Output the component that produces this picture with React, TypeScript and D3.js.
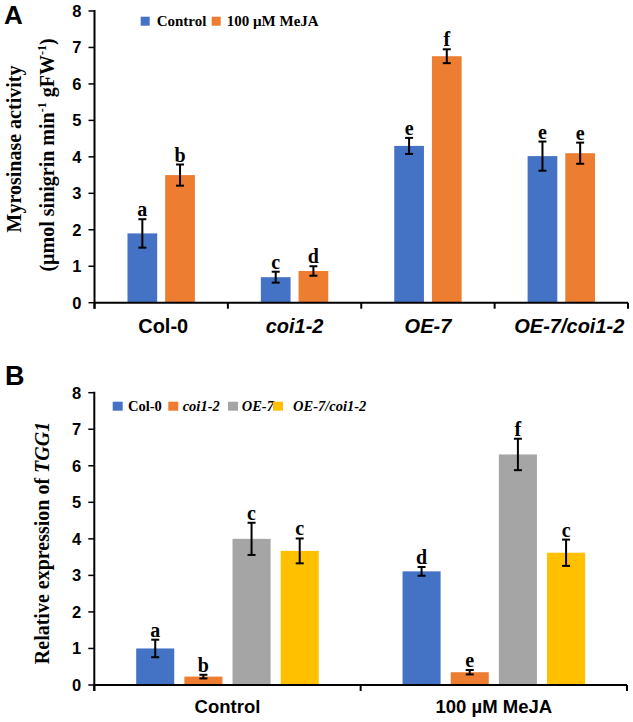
import React from 'react';
import * as d3 from 'd3';

// ---------- Panel A data ----------
const genotypes = ['Col-0', 'coi1-2', 'OE-7', 'OE-7/coi1-2'];
const treatmentsA = ['Control', '100 µM MeJA'];
const activityControl = [1.9, 0.7, 4.3, 4.02];
const activityControlErr = [0.39, 0.15, 0.22, 0.4];
const activityMeJA = [3.5, 0.87, 6.76, 4.1];
const activityMeJAErr = [0.29, 0.13, 0.19, 0.29];
const lettersControlA = ['a', 'c', 'e', 'e'];
const lettersMeJAA = ['b', 'd', 'f', 'e'];
const yTicks = [0, 1, 2, 3, 4, 5, 6, 7, 8];

// ---------- Panel B data ----------
const treatmentsB = ['Control', '100 µM MeJA'];
const exprCol0 = [1.0, 3.11];
const exprCoi12 = [0.23, 0.35];
const exprOE7 = [4.0, 6.31];
const exprOE7coi12 = [3.67, 3.62];
const errCol0 = [0.24, 0.12];
const errCoi12 = [0.05, 0.06];
const errOE7 = [0.44, 0.43];
const errOE7coi12 = [0.34, 0.36];
const lettersCol0 = ['a', 'd'];
const lettersCoi12 = ['b', 'e'];
const lettersOE7 = ['c', 'f'];
const lettersOE7coi12 = ['c', 'c'];

const colorsA = ['#4472C4', '#ED7D31'];
const colorsB = ['#4472C4', '#ED7D31', '#A5A5A5', '#FFC000'];

const SANS = 'Liberation Sans, Arial, sans-serif';
const SERIF = 'Liberation Serif, Times New Roman, serif';

type Bar = { x: number; w: number; v: number; e: number; letter: string; color: string };

function Bars({ bars, y }: { bars: Bar[]; y: d3.ScaleLinear<number, number> }) {
  return (
    <g>
      {bars.map((b, i) => {
        const top = y(b.v);
        const eTop = y(b.v + b.e);
        const eBot = y(b.v - b.e);
        const cx = b.x + b.w / 2;
        return (
          <g key={i}>
            <rect x={b.x} y={top} width={b.w} height={y(0) - top} fill={b.color} />
            <line x1={cx} x2={cx} y1={eTop} y2={eBot} stroke="#000" strokeWidth={2} />
            <line x1={cx - 4} x2={cx + 4} y1={eTop} y2={eTop} stroke="#000" strokeWidth={2} />
            <line x1={cx - 4} x2={cx + 4} y1={eBot} y2={eBot} stroke="#000" strokeWidth={2} />
            <text x={cx} y={eTop - 3} textAnchor="middle" fontFamily={SERIF} fontWeight="bold" fontSize={20}>
              {b.letter}
            </text>
          </g>
        );
      })}
    </g>
  );
}

function YAxis({ y, x }: { y: d3.ScaleLinear<number, number>; x: number }) {
  return (
    <g>
      <line x1={x} x2={x} y1={y(8) - 1} y2={y(0) + 6} stroke="#000" strokeWidth={2} />
      {yTicks.map((t) => (
        <g key={t}>
          <line x1={x - 6} x2={x} y1={y(t)} y2={y(t)} stroke="#000" strokeWidth={1.5} />
          <text x={x - 13} y={y(t)} dy="0.36em" textAnchor="end" fontFamily={SANS} fontWeight="bold" fontSize={16.5}>
            {t}
          </text>
        </g>
      ))}
    </g>
  );
}

export default function App() {
  // ---- Panel A scales ----
  const yA = d3.scaleLinear().domain([0, 8]).range([302.7, 11]);
  const xA = d3.scaleBand<string>().domain(genotypes).range([94.5, 628]);
  const xA1 = d3
    .scaleBand<string>()
    .domain(treatmentsA)
    .range([0, xA.bandwidth()])
    .paddingInner(0.212)
    .paddingOuter(0.875);

  const barsA: Bar[] = [];
  genotypes.forEach((g, i) => {
    barsA.push({
      x: (xA(g) as number) + (xA1(treatmentsA[0]) as number),
      w: xA1.bandwidth(),
      v: activityControl[i],
      e: activityControlErr[i],
      letter: lettersControlA[i],
      color: colorsA[0],
    });
    barsA.push({
      x: (xA(g) as number) + (xA1(treatmentsA[1]) as number),
      w: xA1.bandwidth(),
      v: activityMeJA[i],
      e: activityMeJAErr[i],
      letter: lettersMeJAA[i],
      color: colorsA[1],
    });
  });

  // ---- Panel B scales ----
  const yB = d3.scaleLinear().domain([0, 8]).range([685, 392.7]);
  const xB = d3.scaleBand<string>().domain(treatmentsB).range([94.3, 627]);
  const xB1 = d3
    .scaleBand<string>()
    .domain(genotypes)
    .range([0, xB.bandwidth()])
    .paddingInner(0.21)
    .paddingOuter(0.87);
  const exprSeries = [exprCol0, exprCoi12, exprOE7, exprOE7coi12];
  const errSeries = [errCol0, errCoi12, errOE7, errOE7coi12];
  const letterSeries = [lettersCol0, lettersCoi12, lettersOE7, lettersOE7coi12];
  const barsB: Bar[] = [];
  treatmentsB.forEach((t, ti) => {
    genotypes.forEach((g, gi) => {
      barsB.push({
        x: (xB(t) as number) + (xB1(g) as number),
        w: xB1.bandwidth(),
        v: exprSeries[gi][ti],
        e: errSeries[gi][ti],
        letter: letterSeries[gi][ti],
        color: colorsB[gi],
      });
    });
  });

  const boundariesA = [...genotypes.map((g) => xA(g) as number), xA.range()[1]];
  const boundariesB = [...treatmentsB.map((t) => xB(t) as number), xB.range()[1]];
  const labelShiftA = [2, 0, 0, 8];

  const legendA = [
    { sq: 140.7, tx: 156.7, label: 'Control' },
    { sq: 211.7, tx: 226.7, label: '100 µM MeJA' },
  ];
  const legendB = [
    { sq: 112.7, tx: 128, label: 'Col-0', italic: false },
    { sq: 168.3, tx: 182.7, label: 'coi1-2', italic: true },
    { sq: 228, tx: 241.7, label: 'OE-7', italic: true },
    { sq: 273, tx: 293, label: 'OE-7/coi1-2', italic: true },
  ];

  return (
    <svg
      width={633}
      height={722}
      style={{ position: 'absolute', left: 0, top: 0, display: 'block', background: '#fff' }}
    >
      <rect x={0} y={0} width={633} height={722} fill="#fff" />

      {/* ===== Panel A ===== */}
      <text x={4} y={24} fontFamily={SANS} fontWeight="bold" fontSize={26}>A</text>
      <text
        transform={`translate(21,149) rotate(-90)`}
        textAnchor="middle"
        fontFamily={SERIF}
        fontWeight="bold"
        fontSize={20}
      >
        Myrosinase activity
      </text>
      <text
        transform={`translate(54,155) rotate(-90)`}
        textAnchor="middle"
        fontFamily={SERIF}
        fontWeight="bold"
        fontSize={20}
      >
        (µmol sinigrin min
        <tspan fontSize={12} dy={-8}>-1</tspan>
        <tspan dy={8}> gFW</tspan>
        <tspan fontSize={12} dy={-8}>-1</tspan>
        <tspan dy={8}>)</tspan>
      </text>

      <Bars bars={barsA} y={yA} />
      <YAxis y={yA} x={94.5} />
      <line x1={94.5} x2={628} y1={yA(0)} y2={yA(0)} stroke="#000" strokeWidth={2} />
      {boundariesA.map((bx, i) => (
        <line key={i} x1={bx} x2={bx} y1={yA(0)} y2={yA(0) + 6} stroke="#000" strokeWidth={2} />
      ))}
      {genotypes.map((g, i) => (
        <text
          key={g}
          x={(xA(g) as number) + xA.bandwidth() / 2 + labelShiftA[i]}
          y={333}
          textAnchor="middle"
          fontFamily={SANS}
          fontWeight="bold"
          fontStyle={i === 0 ? 'normal' : 'italic'}
          fontSize={20}
        >
          {g}
        </text>
      ))}
      {legendA.map((l, i) => (
        <g key={l.label}>
          <rect x={l.sq} y={16.7} width={9} height={9} fill={colorsA[i]} />
          <text x={l.tx} y={25.5} fontFamily={SERIF} fontWeight="bold" fontSize={15}>
            {l.label}
          </text>
        </g>
      ))}

      {/* ===== Panel B ===== */}
      <text x={5} y={385} fontFamily={SANS} fontWeight="bold" fontSize={27}>B</text>
      <text
        transform={`translate(49,543) rotate(-90)`}
        textAnchor="middle"
        fontFamily={SERIF}
        fontWeight="bold"
        fontSize={20}
      >
        Relative expression of <tspan fontStyle="italic">TGG1</tspan>
      </text>

      <Bars bars={barsB} y={yB} />
      <YAxis y={yB} x={94.3} />
      <line x1={94.3} x2={627} y1={yB(0)} y2={yB(0)} stroke="#000" strokeWidth={2} />
      {boundariesB.map((bx, i) => (
        <line key={i} x1={bx} x2={bx} y1={yB(0)} y2={yB(0) + 6} stroke="#000" strokeWidth={2} />
      ))}
      {treatmentsB.map((t) => (
        <text
          key={t}
          x={(xB(t) as number) + xB.bandwidth() / 2}
          y={713}
          textAnchor="middle"
          fontFamily={SANS}
          fontWeight="bold"
          fontSize={18.5}
        >
          {t}
        </text>
      ))}
      {legendB.map((l, i) => (
        <g key={l.label}>
          <rect x={l.sq} y={401.7} width={10} height={9} fill={colorsB[i]} />
          <text
            x={l.tx}
            y={410.5}
            fontFamily={SERIF}
            fontWeight="bold"
            fontStyle={l.italic ? 'italic' : 'normal'}
            fontSize={14.5}
          >
            {l.label}
          </text>
        </g>
      ))}
    </svg>
  );
}
